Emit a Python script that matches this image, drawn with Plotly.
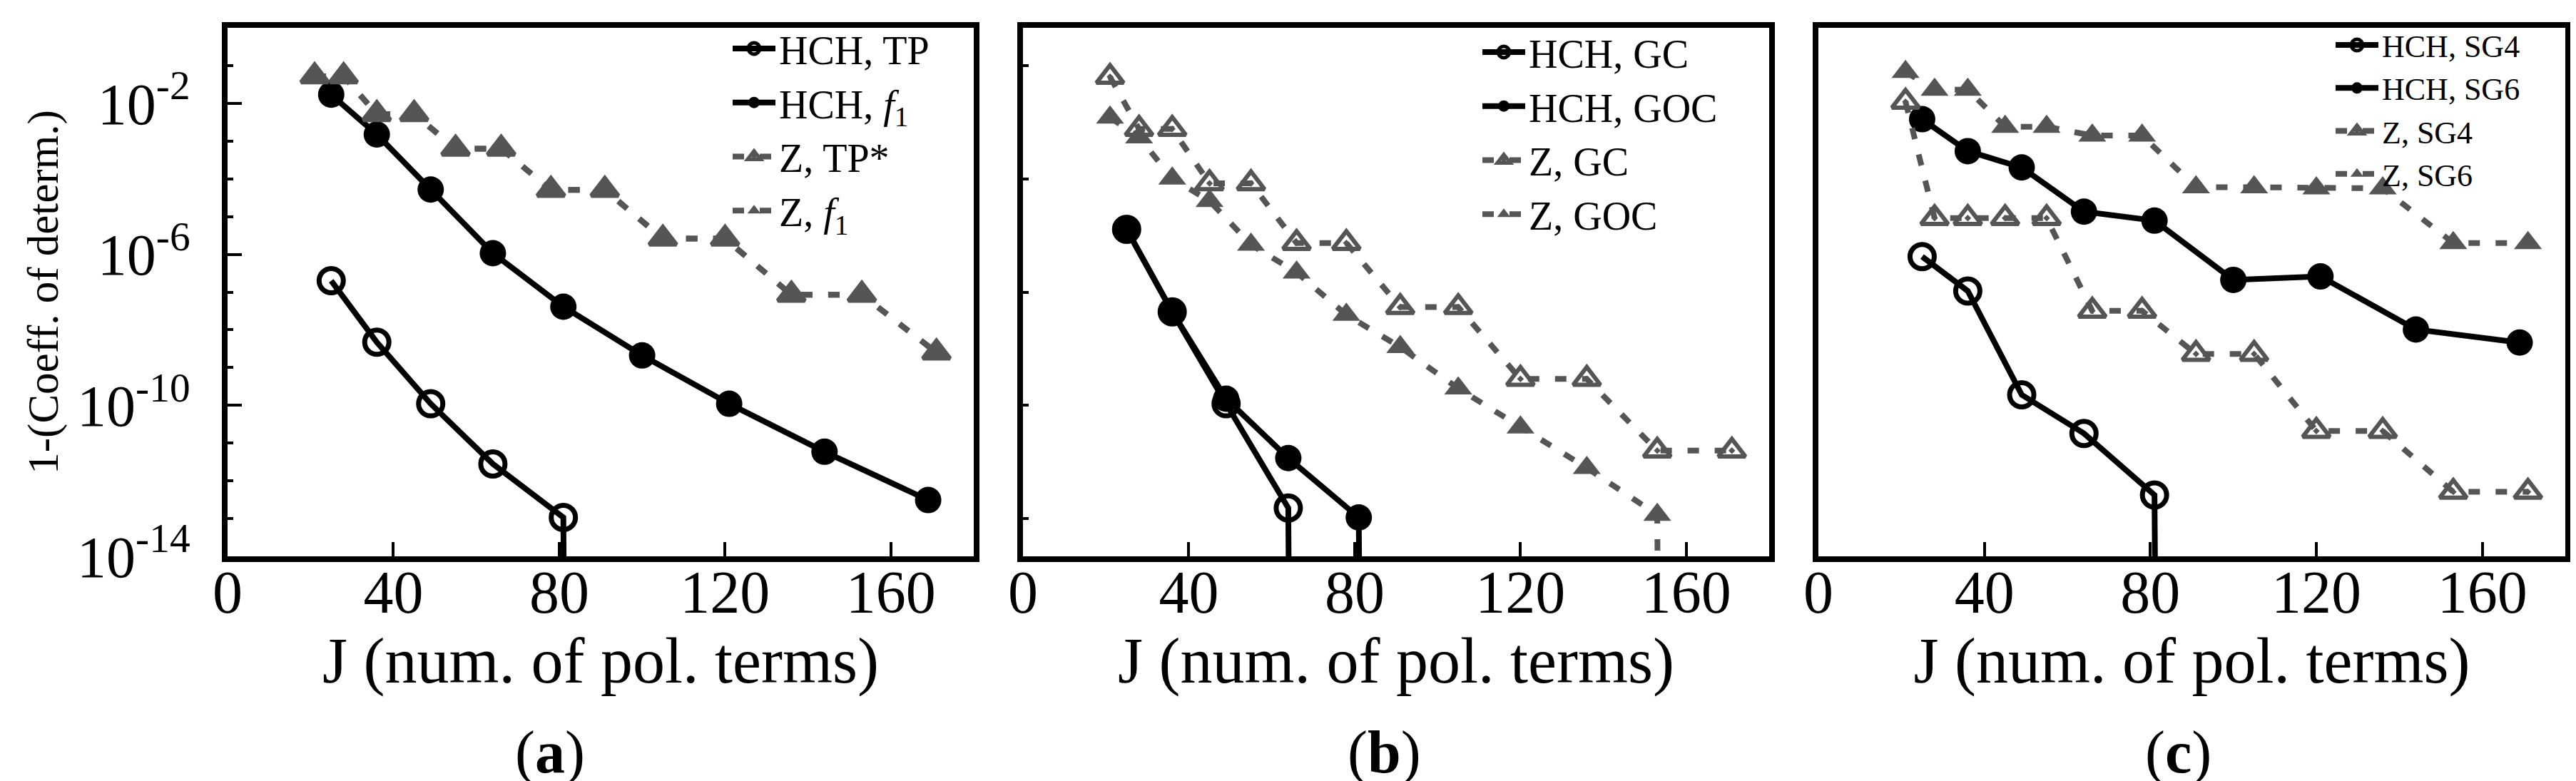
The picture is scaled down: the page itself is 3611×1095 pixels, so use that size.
#!/usr/bin/env python3
# -*- coding: utf-8 -*-

"""
Goodness of fit (1 - coefficient of determination) against the number of
polynomial terms J, HCH vs. Zernike bases, three panels (a), (b), (c).
"""

import plotly.graph_objects as go

# ---------------------------------------------------------------- data ----
# number of polynomial terms of each basis
J_HCH = [25, 36, 49, 64, 81, 100, 121, 144, 169]
J_Z = [21, 28, 36, 45, 55, 66, 78, 91, 105, 120, 136, 153, 171]

# fit exact to machine precision -> drops below the bottom of the axis
EXACT = 1e-300

# (a)
a_hch_tp = [2.0e-7, 4.7e-9, 1.1e-10, 2.8e-12, 1.07e-13, EXACT]
a_hch_f1 = [1.7e-2, 1.5e-3, 5.2e-5, 1.07e-6, 4.1e-8, 2.1e-9, 1.1e-10, 5.9e-12, 3.1e-13]
a_z_tp = [5.2e-2, 5.2e-2, 5.2e-3, 5.2e-3, 6.3e-4, 6.3e-4, 5.1e-5, 5.1e-5,
          2.6e-6, 2.6e-6, 8.5e-8, 8.5e-8, 2.5e-9]
a_z_f1 = [5.2e-2, 5.2e-2, 5.2e-3, 5.2e-3, 6.3e-4, 6.3e-4, 5.1e-5, 5.1e-5,
          2.6e-6, 2.6e-6, 8.5e-8, 8.5e-8, 2.5e-9]

# (b)
b_hch_gc = [4.6e-6, 3.0e-8, 1.1e-10, 1.9e-13, EXACT]
b_hch_goc = [4.6e-6, 3.0e-8, 1.5e-10, 4.0e-12, 1.07e-13, EXACT]
b_z_gc = [5.0e-2, 2.1e-3, 2.1e-3, 7.6e-5, 7.6e-5, 2.0e-6, 2.0e-6, 4.0e-8, 4.0e-8,
          5.0e-10, 5.0e-10, 6.3e-12, 6.3e-12]
b_z_goc = [4.2e-3, 1.26e-3, 1.02e-4, 2.6e-5, 1.8e-6, 3.3e-7, 2.5e-8, 3.5e-9,
           2.8e-10, 2.6e-11, 2.2e-12, 1.26e-13, EXACT]

# (c)
c_hch_sg4 = [8.7e-7, 1.07e-7, 1.9e-10, 1.8e-11, 4.2e-13, EXACT]
c_hch_sg6 = [3.8e-3, 5.4e-4, 2.0e-4, 1.35e-5, 7.8e-6, 2.1e-7, 2.6e-7, 1.02e-8, 4.6e-9]
c_z_sg4 = [1.1e-2, 9.1e-6, 9.1e-6, 9.1e-6, 9.1e-6, 3.2e-8, 3.2e-8, 2.3e-9, 2.3e-9,
           2.1e-11, 2.1e-11, 5.1e-13, 5.1e-13]
c_z_sg6 = [6.8e-2, 2.3e-2, 2.3e-2, 2.4e-3, 2.4e-3, 1.4e-3, 1.4e-3, 6.0e-5, 6.0e-5,
           5.6e-5, 5.6e-5, 2.0e-6, 2.0e-6]

# ticks
X_TICKS = [0, 40, 80, 120, 160]
Y_TICKS_A = [1e-2, 1e-6, 1e-10, 1e-14]
Y_TICKTEXT_A = ["10<sup>-2</sup>", "10<sup>-6</sup>", "10<sup>-10</sup>", "10<sup>-14</sup>"]
Y_MINOR_A = [1e-1, 1e-3, 1e-4, 1e-5, 1e-7, 1e-8, 1e-9, 1e-11, 1e-12, 1e-13]
Y_TICKS_B = [1e-1, 1e-4, 1e-7, 1e-10, 1e-13]

# --------------------------------------------------------------- style ----
W, H = 3611, 1095
FONT = "Liberation Serif"
GRAY = "#555555"

STYLES = {
    "hch_open": dict(line=dict(color="black", width=8),
                     marker=dict(symbol="circle-open", size=34, color="black",
                                 line=dict(width=7, color="black"))),
    "hch_fill": dict(line=dict(color="black", width=8),
                     marker=dict(symbol="circle", size=37, color="black", line=dict(width=0))),
    "z_open": dict(line=dict(color=GRAY, width=8, dash="16px,22px"),
                   marker=dict(symbol="triangle-up-open-dot", size=33, color=GRAY,
                               line=dict(width=6, color=GRAY))),
    "z_fill": dict(line=dict(color=GRAY, width=8, dash="16px,22px"),
                   marker=dict(symbol="triangle-up", size=34, color=GRAY, line=dict(width=0))),
}

# plot areas in pixels (left, right), shared top / bottom
PANEL_X = [(311, 1357), (1426, 2472), (2541, 3588)]
TOP, BOTTOM = 31, 772

PANELS = [
    dict(label="a", legend_right=1300, legend_top=17, legend_size=56,
         series=[("HCH, TP", J_HCH, a_hch_tp, "hch_open"),
                 ("HCH, <i>f</i><sub>1</sub>", J_HCH, a_hch_f1, "hch_fill"),
                 ("Z, TP*", J_Z, a_z_tp, "z_open"),
                 ("Z, <i>f</i><sub>1</sub>", J_Z, a_z_f1, "z_fill")]),
    dict(label="b", legend_right=2405, legend_top=22, legend_size=56,
         series=[("HCH, GC", J_HCH, b_hch_gc, "hch_open"),
                 ("HCH, GOC", J_HCH, b_hch_goc, "hch_fill"),
                 ("Z, GC", J_Z, b_z_gc, "z_open"),
                 ("Z, GOC", J_Z, b_z_goc, "z_fill")]),
    dict(label="c", legend_right=3530, legend_top=20, legend_size=44,
         series=[("HCH, SG4", J_HCH, c_hch_sg4, "hch_open"),
                 ("HCH, SG6", J_HCH, c_hch_sg6, "hch_fill"),
                 ("Z, SG4", J_Z, c_z_sg4, "z_open"),
                 ("Z, SG6", J_Z, c_z_sg6, "z_fill")]),
]
LABEL_X = [763, 1932, 3045]


def fx(px):
    return px / W


def fy(px):
    return 1 - px / H


def main():
    fig = go.Figure()
    layout = dict(width=W, height=H, margin=dict(l=0, r=0, t=0, b=0),
                  paper_bgcolor="white", plot_bgcolor="white",
                  font=dict(family=FONT, color="black"), showlegend=True)
    annotations = []

    for i, panel in enumerate(PANELS):
        n = "" if i == 0 else str(i + 1)
        legend_id = "legend" + n
        for name, j, vals, kind in panel["series"]:
            st = STYLES[kind]
            fig.add_trace(go.Scatter(x=j[:len(vals)], y=vals, name=name, mode="lines+markers",
                                     line=st["line"], marker=st["marker"],
                                     xaxis="x" + n, yaxis="y" + n, legend=legend_id))

        x0, x1 = PANEL_X[i]
        layout["xaxis" + n] = dict(
            domain=[fx(x0), fx(x1)], anchor="y" + n, range=[0, 180],
            tickvals=X_TICKS, ticks="inside", ticklen=20, tickwidth=4, tickcolor="black",
            showline=True, linewidth=8, linecolor="black", mirror=True,
            showgrid=False, zeroline=False, ticklabelstandoff=-30,
            tickfont=dict(size=84, family=FONT),
            title=dict(text="J (num. of pol. terms)", font=dict(size=90, family=FONT), standoff=4),
            automargin=False)

        yax = dict(domain=[fy(BOTTOM), fy(TOP)], anchor="x" + n, type="log", range=[-14, 0],
                   showline=True, linewidth=8, linecolor="black", mirror=True,
                   showgrid=False, zeroline=False, automargin=False)
        if i == 0:
            yax.update(tickvals=Y_TICKS_A, ticktext=Y_TICKTEXT_A, ticks="inside", ticklen=20,
                       tickwidth=4, tickcolor="black", ticklabelstandoff=28,
                       tickfont=dict(size=82, family=FONT),
                       minor=dict(tickvals=Y_MINOR_A, ticks="inside", ticklen=8,
                                  tickwidth=4, tickcolor="black"),
                       title=dict(text="1-(Coeff. of determ.)", font=dict(size=61, family=FONT),
                                  standoff=10))
        elif i == 1:
            yax.update(tickvals=Y_TICKS_B, ticks="inside", ticklen=8, tickwidth=4,
                       tickcolor="black", showticklabels=False)
        else:
            yax.update(ticks="", showticklabels=False)
        layout["yaxis" + n] = yax

        layout[legend_id] = dict(x=fx(panel["legend_right"]), y=fy(panel["legend_top"]),
                                 xanchor="right", yanchor="top", bgcolor="rgba(0,0,0,0)",
                                 borderwidth=0, itemwidth=60, tracegroupgap=0,
                                 font=dict(size=panel["legend_size"], family=FONT))

        annotations.append(dict(text="(<b>%s</b>)" % panel["label"], xref="paper", yref="paper",
                                x=fx(LABEL_X[i]), y=fy(1047), xanchor="center", yanchor="middle",
                                showarrow=False, font=dict(size=84, family=FONT)))

    layout["annotations"] = annotations
    fig.update_layout(**layout)
    fig.write_html("out.html")


if __name__ == "__main__":
    main()
